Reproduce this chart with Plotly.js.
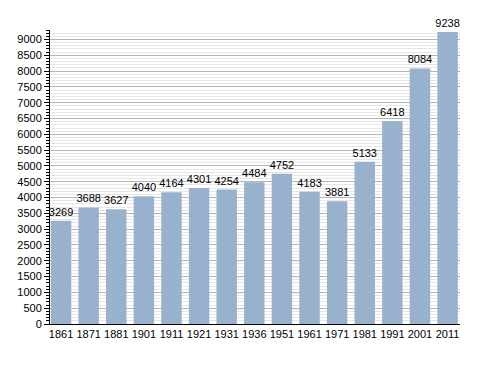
<!DOCTYPE html>
<html>
<head>
<meta charset="utf-8">
<script src="https://cdn.plot.ly/plotly-3.0.1.min.js"></script>
<style>html,body{margin:0;padding:0;background:#fff;}#chart{width:488px;height:373px;}</style>
</head>
<body>
<div id="chart"></div>
<script>
const years = ["1861","1871","1881","1901","1911","1921","1931","1936","1951","1961","1971","1981","1991","2001","2011"];
const population = [3269,3688,3627,4040,4164,4301,4254,4484,4752,4183,3881,5133,6418,8084,9238];

const trace = {
  type: 'bar',
  x: years,
  y: population,
  text: population.map(String),
  textposition: 'outside',
  constraintext: 'none',
  cliponaxis: false,
  textfont: {family: 'Liberation Sans, Arial, sans-serif', size: 11, color: '#000'},
  marker: {color: '#98b1cd', line: {width: 0}},
  hoverinfo: 'x+y'
};

const layout = {
  width: 488, height: 373,
  margin: {l: 50, r: 28, t: 30, b: 49},
  paper_bgcolor: '#fff', plot_bgcolor: '#fff',
  showlegend: false,
  bargap: 0.26,
  uniformtext: {mode: false},
  font: {family: 'Liberation Sans, Arial, sans-serif', size: 11, color: '#000'},
  xaxis: {
    type: 'category',
    range: [-0.4, 14.45],
    showline: true, linecolor: '#000', linewidth: 1,
    ticks: '', showgrid: false,
    tickfont: {size: 11, color: '#000'}
  },
  yaxis: {
    range: [0, 9300],
    dtick: 500, tick0: 0,
    showline: true, linecolor: '#000', linewidth: 1,
    ticks: 'outside', ticklen: 5, tickcolor: '#000',
    showgrid: true, gridcolor: '#b4b4b4', gridwidth: 1,
    zeroline: false,
    tickfont: {size: 11, color: '#000'},
    minor: {dtick: 100, showgrid: true, gridcolor: '#e6e6e6', ticks: 'outside', ticklen: 3, tickcolor: '#000'}
  }
};

Plotly.newPlot('chart', [trace], layout, {displayModeBar: false, staticPlot: true});
</script>
</body>
</html>
